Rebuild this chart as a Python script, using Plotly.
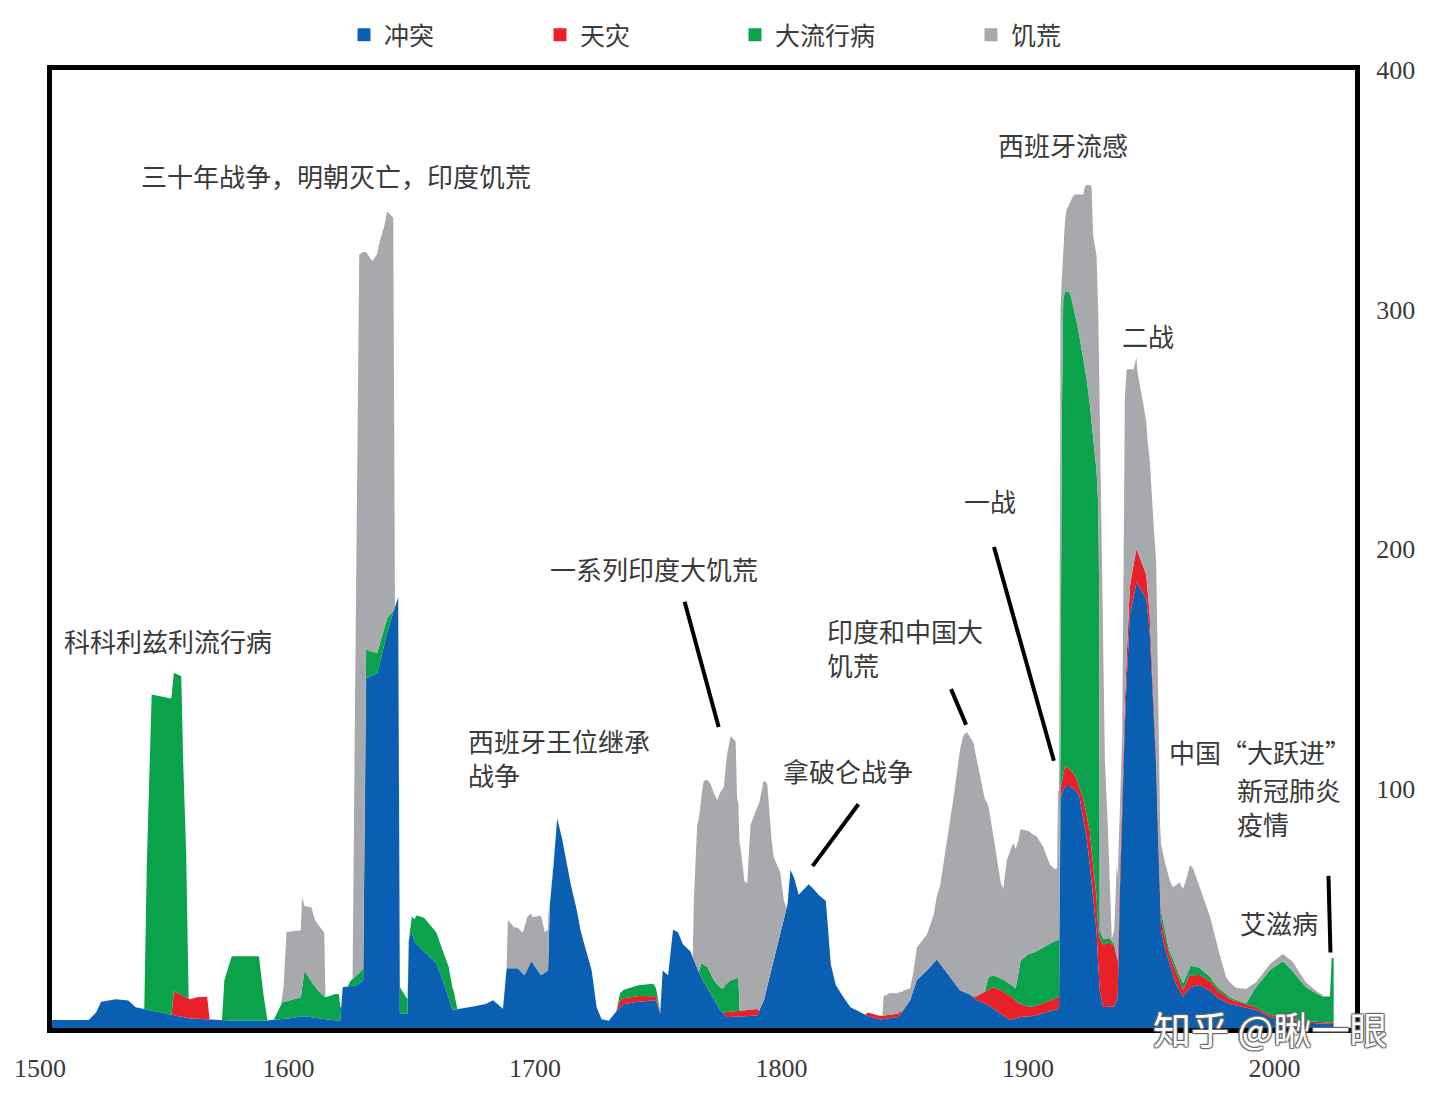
"""Deaths from conflict, disaster, pandemic and famine since 1500 (stacked areas)."""
import plotly.graph_objects as go

# --- data (years, then thickness of each layer) ---
CONFLICT_YEARS = [
    1504, 1519, 1522, 1524, 1530, 1535, 1538, 1541, 1548, 1555, 1560, 1568, 1575, 1590,
    1600, 1606, 1612, 1621, 1622, 1628, 1630.3, 1631.5, 1636, 1640, 1644.5, 1645.2,
    1648.3, 1648.8, 1650, 1651, 1655, 1660, 1664, 1666.5, 1670, 1675, 1680, 1683, 1687,
    1688.5, 1693, 1695.7, 1698.5, 1702.4, 1705.3, 1706, 1707.5, 1709, 1711, 1713, 1714.5,
    1717, 1718.5, 1720, 1723, 1725, 1727, 1730, 1732, 1736, 1742, 1749, 1750.8, 1751.8,
    1754, 1756, 1758, 1760, 1763, 1765, 1768, 1772, 1775, 1778, 1790, 1793, 1796, 1799.5,
    1801, 1802.5, 1803.6, 1805, 1807, 1809, 1811, 1813, 1815, 1818, 1819, 1820, 1822,
    1825, 1828, 1835, 1840, 1847.4, 1852.2, 1854.9, 1859, 1863, 1865.7, 1868.4, 1872.5,
    1876.5, 1879.2, 1883.3, 1888.7, 1892.7, 1896.8, 1902.2, 1910.3, 1912.6, 1913.2, 1914.9,
    1917, 1918.3, 1919.7, 1921, 1922.4, 1923.8, 1925.1, 1926.4, 1927.8, 1928.5, 1929.1,
    1930.5, 1935, 1936.4, 1937.2, 1938.6, 1940, 1941.3, 1944, 1946, 1948, 1949.4, 1950.7,
    1952, 1952.7, 1953.4, 1954, 1955.5, 1957.5, 1960.2, 1962.9, 1965.6, 1969.6, 1973.7,
    1976.4, 1981.8, 1987.2, 1992.6, 1998, 2003.4, 2010, 2020, 2024,
]
CONFLICT = [
    3.3, 3.3, 6.6, 11, 12, 11.5, 8.7, 8, 6.5, 5, 4, 3.5, 3, 3,
    4, 5, 4, 3, 17, 18, 20, 146, 148, 165, 180, 6,
    6, 36.5, 40.6, 36, 32, 27, 16, 7.5, 8, 9, 10, 11.6, 8,
    25, 25, 22, 28, 22, 24, 51, 68, 87.5, 79, 68, 60,
    49, 40.6, 35, 24, 8.7, 3.7, 3, 6, 10, 11, 11.6, 6, 24,
    22, 41, 40, 35, 32, 26.6, 20, 13, 7.5, 4.6, 5, 12, 25, 40,
    46, 52, 66, 63, 55.6, 58, 60, 58, 55.6, 53, 40.6, 26.6, 18,
    13, 8.7, 5, 3.5, 4.6, 11.6, 20, 24, 28.6, 25, 21, 15.7,
    14, 11.6, 10, 6, 3.3, 4.6, 5, 7.5, 8, 96, 101,
    101, 100, 98.8, 96, 87.5, 79, 68, 54, 40.6, 26.6, 15.7,
    8.7, 9, 13, 54, 109.5, 144, 172, 186, 183, 179, 165, 137,
    109.5, 82, 54, 40.6, 33.6, 26, 18, 13, 17, 18, 15.7,
    13, 10, 8.7, 7.5, 4.6, 3.5, 2.5, 1.7, 1.7,
]

DISASTER_YEARS = [
    1504, 1552.5, 1553.5, 1557, 1560, 1563, 1567, 1568, 1733, 1734.5, 1736, 1742, 1748,
    1749.5, 1751, 1776.5, 1777.5, 1785, 1790, 1791, 1834, 1835, 1848, 1849, 1877.5,
    1880.6, 1883.3, 1886, 1889, 1893, 1896.1, 1900, 1905, 1910, 1912.6, 1913.2, 1915,
    1917, 1919, 1921, 1922.4, 1923.8, 1925.1, 1926.4, 1927.8, 1928.5, 1929.1, 1930.5,
    1933, 1935, 1936.4, 1937.2, 1940, 1942, 1944, 1946, 1948, 1950, 1952, 1954, 1957,
    1960, 1962.9, 1965.6, 1970, 1974, 1977, 1982, 1988, 1995, 2024,
]
DISASTER = [
    0, 0, 10, 9, 8, 9, 9.5, 0, 0, 3, 2.4, 2.4, 2,
    1.5, 0, 0, 2, 2.5, 3, 0, 0, 1.5, 1.5, 0, 0,
    3, 5.7, 9, 10, 10, 6, 4, 4, 4.5, 5, 4, 8.5,
    7, 6, 4, 8.5, 10, 14, 14, 14, 14, 22, 26,
    27, 25, 15, 8, 10, 13, 14, 12, 10, 6, 4, 5, 4,
    5, 3, 5, 4, 4, 3, 2, 1.5, 1, 0.5,
]

PANDEMIC_YEARS = [
    1504, 1541.5, 1542.5, 1544.5, 1552.3, 1552.8, 1556.5, 1557.3, 1558.5, 1559.5, 1573,
    1574, 1577, 1588, 1589.5, 1591.5, 1594, 1596, 1597.5, 1605, 1606.5, 1609.3, 1610.7,
    1614.7, 1619, 1620.5, 1621.5, 1624, 1625, 1628, 1630.3, 1631.5, 1634, 1637, 1640,
    1643, 1644.5, 1645.2, 1648.3, 1648.8, 1650.5, 1652, 1655, 1662, 1665, 1667, 1668.5,
    1733, 1734.5, 1736, 1742, 1748, 1749.5, 1751, 1766.5, 1767.5, 1770, 1772.6, 1776,
    1779, 1782.5, 1783, 1882.5, 1884, 1890, 1895, 1897, 1900, 1905, 1910, 1913.2,
    1913.7, 1914.3, 1917, 1918.3, 1919.7, 1921, 1922.4, 1923.8, 1925.1, 1926.4, 1927.8,
    1928.5, 1928.9, 1929.1, 1935, 1936.4, 1953, 1954, 1957, 1961, 1964, 1966, 1970,
    1975, 1985, 1988.5, 1992.6, 1998, 2003.4, 2007.4, 2012.8, 2019.6, 2022.5, 2023.2, 2024,
]
PANDEMIC = [
    0, 0, 60, 132, 132, 133, 133, 97, 60, 0, 0,
    17, 27, 27, 13, 0, 0, 4, 7, 8, 19, 15, 13,
    9, 11, 11, 0, 0, 2, 4, 5, 12, 10, 8, 6,
    0, 0, 11, 6, 0, 8, 12, 14, 12.4, 13, 8, 0,
    0, 3, 3.6, 4.5, 5, 3, 0, 0, 6, 9, 8, 10,
    13, 14, 0, 0, 5, 5, 5, 18, 22, 23, 24, 24,
    150, 198, 199, 195, 191, 188, 184, 182, 178, 178, 178,
    178, 140, 3, 1, 0, 0, 3, 2, 2, 3, 4, 3,
    1.5, 0.5, 0.5, 8.5, 18.5, 23.5, 20, 14, 10.6, 11, 27, 27,
]

FAMINE_YEARS = [
    1504, 1597, 1598, 1599.2, 1605, 1605.5, 1606.5, 1609.3, 1610.7, 1613.4, 1614.5, 1615,
    1626, 1627, 1628, 1628.7, 1630.3, 1631.5, 1634, 1636.8, 1638.9, 1640, 1642.5, 1643.2,
    1688.5, 1689, 1691.6, 1695, 1695.7, 1697, 1699, 1702.4, 1704, 1705.5, 1706,
    1764, 1764.5, 1765.8, 1768.5, 1771.3, 1772.6, 1774, 1775.3, 1776.6, 1778, 1779.4,
    1781.4, 1782, 1783.4, 1784.7, 1786.1, 1787.4, 1790.1, 1792.8, 1794.2, 1795.5,
    1796.8, 1799.5, 1800.9, 1802, 1841, 1841.4, 1844.1, 1849.5, 1852.2, 1853.6, 1854.9,
    1859, 1861.7, 1864.4, 1867.1, 1869.8, 1872.5, 1873.8, 1875.2, 1877.9, 1880.6, 1883.3,
    1886, 1888.7, 1890, 1891.4, 1894.1, 1896.1, 1899.5, 1903.5, 1906.2, 1908.9, 1910.9,
    1911.8, 1912.2, 1912.6, 1913.2, 1913.7, 1914.3, 1915.6, 1917, 1918.3, 1919.7, 1921,
    1922.4, 1923.1, 1923.8, 1925.1, 1925.8, 1926.4, 1927.8, 1928.5, 1928.9, 1929.1,
    1929.8, 1930.5, 1931.2, 1932.4, 1933.3, 1934, 1935, 1936, 1937.2, 1938.2, 1938.8,
    1939.3, 1940, 1941.3, 1942.7, 1944, 1944.4, 1945.8, 1947.1, 1948.5, 1949.8, 1950.5,
    1951.2, 1952, 1953, 1953.6, 1956, 1958.8, 1961.5, 1964.2, 1965.6, 1966.9, 1969.6,
    1972.3, 1975, 1977.7, 1980.4, 1984.5, 1988.5, 1992.6, 1998, 2003.4, 2007.4, 2012.8,
    2016.9, 2021, 2022.3, 2024,
]
FAMINE = [
    0, 0, 6, 29, 28, 38, 27, 31, 28, 27, 27, 0,
    0, 116, 219, 300, 299, 166, 163, 168, 168, 170, 164, 0,
    0, 20, 17, 17, 20, 22, 19, 25, 17, 17, 0,
    0, 27, 60, 77, 79, 78, 77, 82, 84, 96, 102,
    99, 75, 68, 54, 53, 77, 84, 92, 85, 60,
    43, 25, 8, 0, 0, 8, 9, 8, 5, 8, 13.6,
    15, 20, 33, 55, 77, 101, 107, 109, 106, 91, 76,
    58, 40, 38, 51, 60, 56, 52, 48, 42, 33, 30,
    30, 62, 62, 176, 60, 23, 34, 37.5, 46, 53, 60,
    68, 76, 81, 92, 99, 85, 90, 80, 92, 224,
    182, 114, 75, 46, 18, 1, 6, 38, 30, 20, 67,
    127, 121, 91, 82, 80, 75, 71, 67, 62, 66, 73,
    75, 81, 63, 28, 29, 30, 39, 40, 42, 41, 34,
    29, 22, 14.5, 7, 5, 6, 2, 2.5, 3, 4, 2,
    1, 0.2, 0, 0,
]

SERIES = [
    ("冲突", CONFLICT_YEARS, CONFLICT, "#0b5fb2"),
    ("天灾", DISASTER_YEARS, DISASTER, "#e8202a"),
    ("大流行病", PANDEMIC_YEARS, PANDEMIC, "#0ba24c"),
    ("饥荒", FAMINE_YEARS, FAMINE, "#a8a9ac"),
]

X_TICKS = [1600, 1700, 1800, 1900, 2000]
Y_TICKS = [100, 200, 300, 400]

# event labels: (text, year, value)
LABELS = [
    ("三十年战争，明朝灭亡，印度饥荒", 1539.3, 356),
    ("科科利兹利流行病", 1508.1, 162),
    ("西班牙王位继承<br>战争", 1672, 113),
    ("一系列印度大饥荒", 1705.3, 192),
    ("拿破仑战争", 1799.6, 107.5),
    ("印度和中国大<br>饥荒", 1817.8, 158.7),
    ("一战", 1873.3, 220.3),
    ("西班牙流感", 1887, 369),
    ("二战", 1937.2, 289.2),
    ("中国“大跃进”", 1956.3, 115.4),
    ("新冠肺炎<br>疫情", 1983.8, 92.3),
    ("艾滋病", 1985, 44),
]

# pointer lines: (year0, value0, year1, value1)
POINTERS = [
    (1760.7, 178, 1774.5, 125.7),
    (1868.8, 141.5, 1874.9, 126.6),
    (1831.2, 93.4, 1812.6, 67.6),
    (1886.2, 200.8, 1910.5, 111.6),
    (2021.9, 63.5, 2022.7, 31.5),
]

CJK = "Noto Sans CJK SC"
SERIF = "Liberation Serif"
TEXT = "#3a3a3a"

# page has an 8px body margin, so the figure is drawn 8px smaller
W, H = 1432, 1094
L, T, PW, PH = 44, 62, 1303, 958
OFF = 8


def paper_x(px):
    return (px - OFF - L) / PW


def paper_y(py):
    return (T + PH - (py - OFF)) / PH


fig = go.Figure()

for name, xs, ys, color in SERIES:
    fig.add_trace(go.Scatter(
        x=xs, y=ys, name=name, mode="lines",
        stackgroup="deaths", stackgaps="interpolate",
        line=dict(width=0, color=color), fillcolor=color,
        showlegend=False, hoverinfo="skip",
    ))

# legend: one small square per category, each in its own legend box
legend_px = [364, 560, 755, 991]
for i, (name, _, _, color) in enumerate(SERIES):
    key = "legend" if i == 0 else f"legend{i + 1}"
    fig.add_trace(go.Scatter(
        x=[None], y=[None], name=name, mode="markers",
        marker=dict(symbol="square", size=13, color=color),
        legend=key, showlegend=True,
    ))
    fig.update_layout({key: dict(
        x=paper_x(legend_px[i] - 20), y=paper_y(35),
        xanchor="left", yanchor="middle", orientation="h",
        bgcolor="rgba(0,0,0,0)", font=dict(family=CJK, size=25, color=TEXT),
        itemwidth=30,
    )})

for text, year, value in LABELS:
    fig.add_annotation(
        x=year, y=value, text=text, showarrow=False, xanchor="left", align="left",
        font=dict(family=CJK, size=26, color=TEXT),
    )

for x0, y0, x1, y1 in POINTERS:
    fig.add_shape(type="line", x0=x0, y0=y0, x1=x1, y1=y1,
                  line=dict(color="black", width=4))

# 1500 sits just left of the plotted range
fig.add_annotation(
    xref="paper", yref="paper", x=paper_x(40), y=paper_y(1068),
    xanchor="center", yanchor="middle",
    text="1500", showarrow=False, font=dict(family=SERIF, size=26, color=TEXT),
)

# watermark
fig.add_annotation(
    xref="paper", yref="paper", x=paper_x(1270), y=paper_y(1027),
    xanchor="center", yanchor="middle",
    text="知乎 @瞅一眼", showarrow=False,
    font=dict(family=CJK, size=38, color="white",
              shadow="1px 1px 1px #666, -1px -1px 1px #666, 1px -1px 1px #666, -1px 1px 1px #666"),
)

fig.update_xaxes(
    range=[1504.06, 2032.66], tickvals=X_TICKS, showgrid=False, zeroline=False,
    showline=True, mirror=True, linewidth=5, linecolor="black", ticks="",
    tickfont=dict(family=SERIF, size=26, color=TEXT), ticklabelstandoff=13,
)
fig.update_yaxes(
    range=[0, 400], tickvals=Y_TICKS, side="right", showgrid=False, zeroline=False,
    showline=True, mirror=True, linewidth=5, linecolor="black", ticks="",
    tickfont=dict(family=SERIF, size=26, color=TEXT), ticklabelstandoff=11,
)

fig.update_layout(
    width=W, height=H,
    margin=dict(l=L, r=W - L - PW, t=T, b=H - T - PH, autoexpand=False),
    paper_bgcolor="white", plot_bgcolor="white",
)

fig.write_html("out.html")
